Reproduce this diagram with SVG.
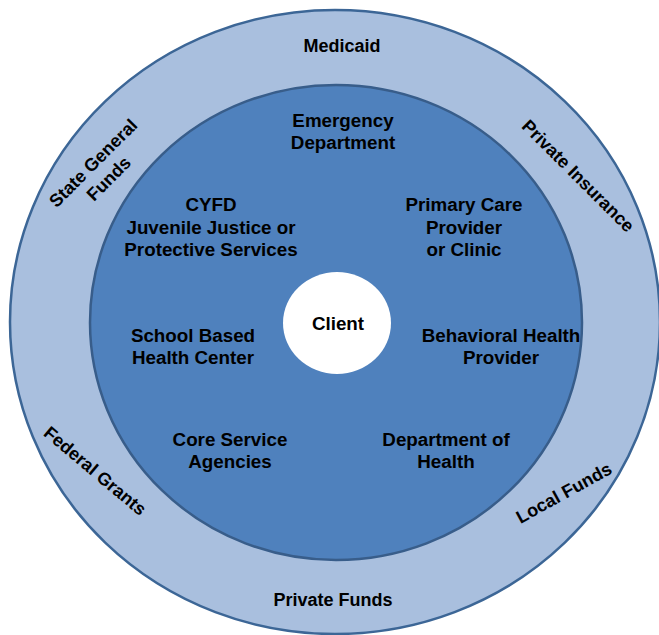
<svg xmlns="http://www.w3.org/2000/svg" width="659" height="635" viewBox="0 0 659 635">
<style>
text{font-family:"Liberation Sans",Arial,sans-serif;font-weight:bold;font-size:18px;fill:#000;text-anchor:middle}
.in{font-size:18.8px}
.outer{fill:#A9BFDE;stroke:#3C6696;stroke-width:2.5}
.inner{fill:#4F81BD;stroke:#385D8A;stroke-width:2.5}
.client{fill:#FFFFFF;stroke:none}
</style>
<g id="outer-ring"><ellipse class="outer" cx="335" cy="322" rx="325" ry="312"/></g>
<g id="inner-ring"><ellipse class="inner" cx="336" cy="322.5" rx="246" ry="237.5"/></g>
<g id="client"><ellipse class="client" cx="337" cy="323" rx="54" ry="51"/><text class="in" x="338" y="330">Client</text></g>
<g id="connectors"></g>
<g id="medicaid"><text x="342" y="52">Medicaid</text></g>
<g id="private-funds"><text x="333" y="606">Private Funds</text></g>
<g id="state-general-funds"><text transform="translate(101,171) rotate(-45)"><tspan x="0" y="-5">State General</tspan><tspan x="0" y="17">Funds</tspan></text></g>
<g id="private-insurance"><text transform="translate(578,176) rotate(45)" x="0" y="6">Private Insurance</text></g>
<g id="federal-grants"><text transform="translate(95,471) rotate(40)" x="0" y="6">Federal Grants</text></g>
<g id="local-funds"><text transform="translate(564,493) rotate(-29)" x="0" y="6">Local Funds</text></g>
<g id="emergency"><text class="in"><tspan x="343" y="127">Emergency</tspan><tspan x="343" y="149">Department</tspan></text></g>
<g id="cyfd"><text class="in"><tspan x="211" y="211">CYFD</tspan><tspan x="211" y="234">Juvenile Justice or</tspan><tspan x="211" y="256">Protective Services</tspan></text></g>
<g id="primary-care"><text class="in"><tspan x="464" y="211">Primary Care</tspan><tspan x="464" y="234">Provider</tspan><tspan x="464" y="256">or Clinic</tspan></text></g>
<g id="school-based"><text class="in"><tspan x="193" y="342">School Based</tspan><tspan x="193" y="364">Health Center</tspan></text></g>
<g id="behavioral"><text class="in"><tspan x="501" y="342">Behavioral Health</tspan><tspan x="501" y="364">Provider</tspan></text></g>
<g id="core-service"><text class="in"><tspan x="230" y="446">Core Service</tspan><tspan x="230" y="468">Agencies</tspan></text></g>
<g id="doh"><text class="in"><tspan x="446" y="446">Department of</tspan><tspan x="446" y="468">Health</tspan></text></g>
</svg>
